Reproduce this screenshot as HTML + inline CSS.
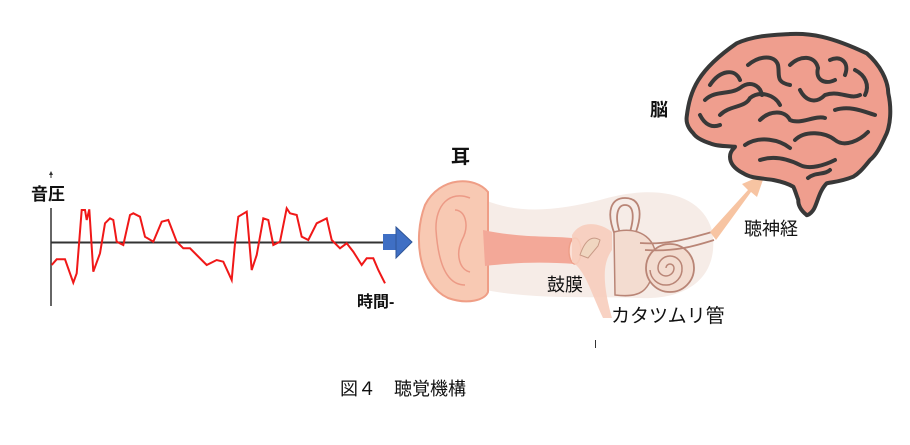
<!DOCTYPE html>
<html><head><meta charset="utf-8"><style>
html,body{margin:0;padding:0;background:#fff;}
svg{display:block;}
text{font-family:"Liberation Sans","Noto Sans CJK JP",sans-serif;fill:#111;}
</style></head><body>
<svg width="910" height="445" viewBox="0 0 910 445" xmlns="http://www.w3.org/2000/svg">
<!-- graph -->
<line x1="51" y1="208" x2="51" y2="306" stroke="#333" stroke-width="1.5"/>
<line x1="51" y1="174" x2="51" y2="178" stroke="#333" stroke-width="1"/>
<path d="M49,175 L51,171 L53,175Z" fill="#333"/>
<text x="31" y="200" font-size="17" font-weight="bold">音圧</text>
<line x1="51" y1="242.5" x2="384" y2="242.5" stroke="#333" stroke-width="2"/>
<polyline fill="none" stroke="#f01818" stroke-width="2" points="51.7,265 56.7,259.3 65,259.3 73.3,282.7 76.7,273.3 81.7,210 85,210 86.7,220 89.3,209.3 93.3,271.7 100,253.3 105,223.3 110,218.3 113.3,220 116.7,241.7 123.3,245 130,215 133.3,213.3 140,216.7 145,236.7 153.3,241.7 161.7,221.7 168.3,220 176.7,241.7 183.3,248.3 190,248.3 196.7,255 206.7,265 216.7,260 223.3,261.7 231.7,280 235,243.3 238.3,216.7 246.7,211.7 251.7,270 256.7,255 263.3,218.3 268.3,220 273.3,245 280,241.7 286.7,208.3 290,213.3 296.7,215 301.7,236.7 308.3,240 316.7,223.3 326.7,218.3 331.7,240 340,248.3 346.7,243.3 353.3,251.7 361.7,265 366.7,258.3 373.3,258.3 378.3,270 385,283.3"/>
<rect x="383" y="234" width="14" height="16" fill="#3f6fc4"/>
<path d="M396,227 L412,242 L396,258Z" fill="#3f6fc4" stroke="#2f5597" stroke-width="1"/>
<text x="357" y="307" font-size="16" font-weight="bold">時間-</text>
<!-- ear background -->
<path d="M485,200 C520,215 560,210 600,200 C650,185 700,190 712,230 C720,275 690,300 640,298 C590,296 540,300 485,290Z" fill="#f6ece7"/>
<!-- ear -->
<path d="M488,192 C475,176 440,176 425,205 C412,240 420,285 448,298 C468,305 485,300 488,292Z" fill="#f8c9b3" stroke="#ef9e86" stroke-width="2"/>
<path d="M470,198 C450,190 435,205 436,230 C438,260 445,285 465,285" fill="none" stroke="#ec9a86" stroke-width="1.5"/>
<path d="M455,210 C465,210 470,225 462,240 C455,255 460,270 470,272" fill="none" stroke="#ec9a86" stroke-width="1.5"/>
<path d="M483,230 C520,238 550,236 572,238 L575,264 C545,262 520,262 485,266Z" fill="#f3a898"/>
<ellipse cx="575" cy="251" rx="6" ry="13" fill="#fbe0d6" stroke="#ee9e88" stroke-width="1.5"/>
<!-- middle ear -->
<path d="M572,235 C580,220 600,222 612,232 L612,250 C605,260 600,275 612,318 L603,318 C590,290 585,270 572,262Z" fill="#f7cdbd" opacity="0.9"/>
<path d="M580,255 C585,240 592,235 600,240 L598,246 L588,258Z" fill="#f0d6c0" stroke="#c89a86" stroke-width="1"/>
<!-- semicircular canals & cochlea -->
<path d="M615,235 C605,210 612,198 625,198 C640,198 643,212 636,232" fill="none" stroke="#b98576" stroke-width="1.8"/>
<path d="M620,233 C614,215 618,205 625,205 C633,205 635,215 630,232" fill="none" stroke="#b98576" stroke-width="1.8"/>
<path d="M614,232 C640,225 660,240 655,265 C650,292 640,298 615,295Z" fill="#f3dcd0" stroke="#b98576" stroke-width="1.5"/>
<circle cx="670" cy="268" r="24" fill="#f3dcd0" stroke="#b98576" stroke-width="1.8"/>
<path d="M670,268 m-4,0 a4,4 0 1,1 8,0 a8,8 0 1,1 -16,0 a12,12 0 1,1 24,0 a16,16 0 1,1 -32,2" fill="none" stroke="#b98576" stroke-width="1.5"/>
<path d="M640,243 C670,245 690,238 712,232 M645,250 C675,252 695,246 714,240" fill="none" stroke="#b98576" stroke-width="1.8"/>
<!-- nerve arrow -->
<path d="M710,232 L748,190 L742,184 L765,174 L757,197 L751,192 L716,240Z" fill="#f7c4a2"/>
<!-- brain -->
<path d="M686.7,116.7 C690,90 698,70 736.7,43.3 C755,35 775,35 790,34 C810,33 830,36 866.7,53.3 C880,65 888,80 888.3,93.3 C892,110 890,125 886.7,133.3 C880,148 876,155 870,160 C862,170 858,174 853.3,176.7 C840,182 832,182 826.7,183.3 C820,190 818,200 815,206.7 C812,214 806,216 806.7,215 C800,210 798,204 798.3,200 C796,194 795,190 793.3,186.7 C785,182 778,181 773.3,180 C760,178 750,178 743.3,173.3 C733,168 730,162 730,156.7 C730,150 735,148 735,146.7 C725,146 715,146 710,143.3 C700,140 695,136 693.3,133.3 C688,128 686,122 686.7,116.7Z" fill="#ef9e8e" stroke="#383838" stroke-width="4" stroke-linejoin="round"/>
<g fill="none" stroke="#383838" stroke-width="4" stroke-linecap="round">
<path d="M710,85 C720,70 735,68 740,80"/>
<path d="M705,100 C715,90 730,95 740,88 C750,80 760,85 762,95"/>
<path d="M748,65 C760,55 775,55 778,65 C780,75 775,82 790,85"/>
<path d="M790,65 C800,55 815,55 818,68 C815,80 825,85 835,80"/>
<path d="M830,60 C840,55 850,62 845,75"/>
<path d="M855,70 C865,75 870,85 865,95"/>
<path d="M720,115 C730,105 745,108 750,98 C760,90 775,95 780,105"/>
<path d="M800,90 C805,100 815,105 825,95 C840,90 850,100 860,95"/>
<path d="M760,120 C770,110 785,110 790,120 C800,125 815,115 825,118"/>
<path d="M835,110 C850,105 865,112 875,115"/>
<path d="M745,145 C760,135 780,140 790,148"/>
<path d="M795,140 C805,130 825,132 835,140 C845,148 860,140 868,132"/>
<path d="M760,160 C775,155 790,160 800,165 C810,170 825,165 835,160"/>
<path d="M808,178 C815,172 825,175 830,170"/>
<path d="M700,115 C705,125 712,128 720,125"/>
</g>
<!-- labels -->
<text x="451" y="163" font-size="19" font-weight="bold">耳</text>
<text x="650" y="116" font-size="18" font-weight="bold">脳</text>
<text x="744" y="235" font-size="18">聴神経</text>
<text x="547" y="291" font-size="18">鼓膜</text>
<text x="611" y="322" font-size="19">カタツムリ管</text>
<line x1="595.5" y1="340" x2="595.5" y2="348" stroke="#333" stroke-width="1"/>
<text x="340" y="395" font-size="18">図４　聴覚機構</text>
</svg>
</body></html>
